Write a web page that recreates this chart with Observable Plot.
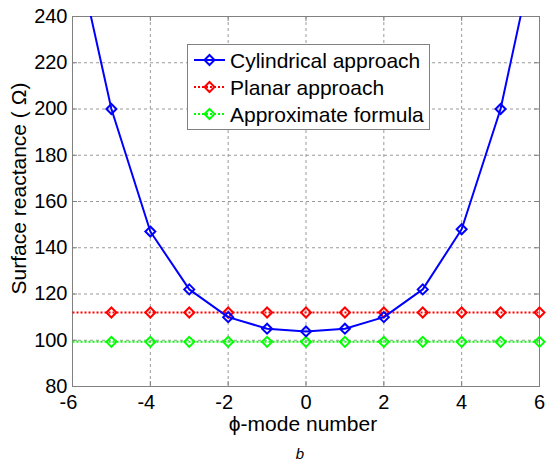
<!DOCTYPE html>
<html>
<head>
<meta charset="utf-8">
<script src="https://cdn.jsdelivr.net/npm/d3@7"></script>
<script src="https://cdn.jsdelivr.net/npm/@observablehq/plot@0.6"></script>
<style>
  html, body { margin: 0; padding: 0; background: white; }
  #chart { width: 553px; height: 463px; }
</style>
</head>
<body>
<div id="chart"></div>
<script>
// ---- data ----
const modes = [-6, -5, -4, -3, -2, -1, 0, 1, 2, 3, 4, 5, 6];
const cylindrical = [276, 200, 147, 122, 110, 105, 103.8, 105, 110, 122, 148, 200, 278];
const planar = [112, 112, 112, 112, 112, 112, 112, 112, 112, 112, 112, 112, 112];
const approximate = [99.3, 99.3, 99.3, 99.3, 99.3, 99.3, 99.3, 99.3, 99.3, 99.3, 99.3, 99.3, 99.3];
const flatMarkerModes = [-5, -4, -3, -2, -1, 0, 1, 2, 3, 4, 5, 6];
const seriesNames = ["Cylindrical approach", "Planar approach", "Approximate formula"];
const xTicks = [-6, -4, -2, 0, 2, 4, 6];
const yTicks = [80, 100, 120, 140, 160, 180, 200, 220, 240];
const xLabel = "\u03D5-mode number";
const yLabel = "Surface reactance ( \u03A9)";
const caption = "b";

const rows = modes.map((m, i) => ({mode: m, cyl: cylindrical[i], planar: planar[i], approx: approximate[i]}));
const flatRows = rows.filter(r => flatMarkerModes.includes(r.mode));

const colors = ["#0000ff", "#ff0000", "#00ff00"];
const dashes = [null, "2,2", "2,2"];
const gridStyle = {stroke: "#9a9a9a", strokeOpacity: 1, strokeWidth: 1, strokeDasharray: "3,3"};
const axisColor = "#808080";
const dotStyle = {symbol: "diamond2", r: 4.5, strokeWidth: 2, fill: "none"};
const fontFamily = "'Liberation Sans', Arial, sans-serif";

const svg = Plot.plot({
  width: 553,
  height: 463,
  marginLeft: 72,
  marginRight: 14,
  marginTop: 16,
  marginBottom: 77,
  style: {fontFamily, fontSize: "20px", background: "white", color: "black"},
  x: {domain: [-6, 6]},
  y: {domain: [80, 240]},
  marks: [
    Plot.gridX({ticks: xTicks, ...gridStyle}),
    Plot.gridY({ticks: yTicks, ...gridStyle}),
    Plot.frame({stroke: axisColor, strokeWidth: 1}),
    Plot.tickX(xTicks, {x: d => d, insetTop: 365, stroke: axisColor}),
    Plot.tickX(xTicks, {x: d => d, insetBottom: 365, stroke: axisColor}),
    Plot.tickY(yTicks, {y: d => d, insetRight: 462, stroke: axisColor}),
    Plot.tickY(yTicks, {y: d => d, insetLeft: 462, stroke: axisColor}),
    Plot.line(rows, {x: "mode", y: "approx", stroke: colors[2], strokeWidth: 2, strokeDasharray: dashes[2], strokeLinecap: "butt"}),
    Plot.dot(flatRows, {x: "mode", y: "approx", stroke: colors[2], ...dotStyle}),
    Plot.line(rows, {x: "mode", y: "planar", stroke: colors[1], strokeWidth: 2, strokeDasharray: dashes[1], strokeLinecap: "butt"}),
    Plot.dot(flatRows, {x: "mode", y: "planar", stroke: colors[1], ...dotStyle}),
    Plot.line(rows, {x: "mode", y: "cyl", stroke: colors[0], strokeWidth: 2, clip: true}),
    Plot.dot(rows, {x: "mode", y: "cyl", stroke: colors[0], ...dotStyle, clip: true}),
    Plot.axisX({ticks: xTicks.filter(t => t >= 0), tickSize: 0, tickPadding: 8, tickFormat: d => String(d), label: null, fontSize: 20}),
    Plot.axisX({ticks: xTicks.filter(t => t < 0), tickSize: 0, tickPadding: 8, tickFormat: d => String(d), label: null, fontSize: 20, dx: -4}),
    Plot.axisY({ticks: yTicks, tickSize: 0, tickPadding: 5, tickFormat: d => String(d), label: null, fontSize: 20}),
    Plot.text([xLabel], {text: d => d, frameAnchor: "bottom", textAnchor: "middle", dy: 44, dx: -3, lineAnchor: "bottom", fontSize: 21}),
    Plot.text([yLabel], {text: d => d, frameAnchor: "left", textAnchor: "middle", rotate: -90, dx: -53, dy: -13, lineAnchor: "middle", fontSize: 21}),
    Plot.text([caption], {text: d => d, frameAnchor: "bottom", textAnchor: "middle", dy: 72, dx: -6, lineAnchor: "bottom", fontSize: 15, fontStyle: "italic"})
  ]
});

// ---- legend box inside the plot area ----
const lg = d3.select(svg).append("g")
  .attr("font-family", fontFamily).attr("font-size", 21)
  .attr("text-anchor", "start");
lg.append("rect").attr("x", 187.5).attr("y", 44.5).attr("width", 242).attr("height", 85)
  .attr("fill", "white").attr("stroke", axisColor).attr("stroke-width", 1);
const diamond = d3.symbol(d3.symbolDiamond2, 64)();
seriesNames.forEach((name, i) => {
  const y = 60 + i * 27;
  const row = lg.append("g");
  row.append("line").attr("x1", 194).attr("x2", 225).attr("y1", y).attr("y2", y)
    .attr("stroke", colors[i]).attr("stroke-width", 2).attr("stroke-dasharray", dashes[i]);
  row.append("path").attr("d", diamond).attr("transform", `translate(209.5,${y})`)
    .attr("fill", "none").attr("stroke", colors[i]).attr("stroke-width", 2);
  row.append("text").attr("x", 230).attr("y", y + 7.5).attr("text-anchor", "start").text(name);
});

document.getElementById("chart").appendChild(svg);
</script>
</body>
</html>
